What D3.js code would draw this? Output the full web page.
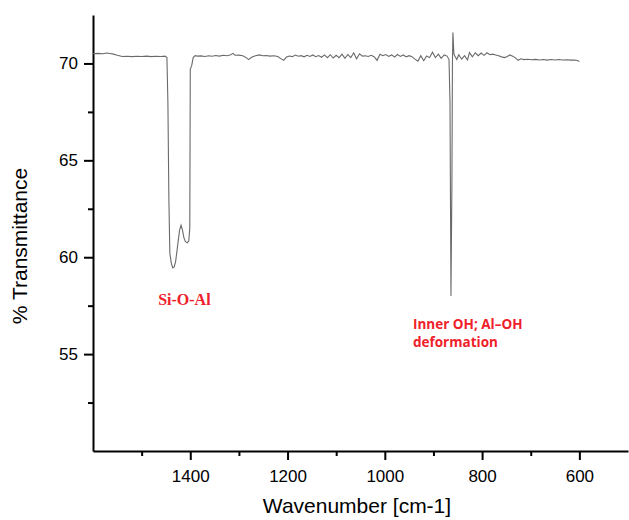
<!DOCTYPE html>
<html>
<head>
<meta charset="utf-8">
<script src="https://cdn.jsdelivr.net/npm/d3@7"></script>
<style>
  body { margin: 0; background: #fff; }
  .axis path, .axis line { stroke: #000; stroke-width: 2; }
  .axis text { font-family: "Liberation Sans", Arial, sans-serif; font-size: 17px; fill: #000; }
</style>
</head>
<body>
<div class="chart"></div>
<script>
// FTIR spectrum, values
var wavenumbers = [
  1600, 1590, 1580, 1572, 1565, 1558, 1550, 1540, 1530, 1520, 1510, 1500, 1490, 1480, 1470, 1460, 1452, 1448,
  1446, 1444, 1442, 1439, 1436, 1433, 1430, 1426, 1422, 1419, 1416, 1413, 1410, 1406, 1403, 1401, 1400, 1397, 1394,
  1390, 1385, 1378, 1370, 1362, 1355, 1348, 1340, 1332, 1325, 1318, 1312, 1308, 1300, 1292, 1285, 1280, 1274, 1266,
  1258, 1250, 1244, 1236, 1228, 1220, 1214, 1208, 1202, 1196, 1190, 1184, 1178, 1172, 1166, 1160, 1154, 1148, 1142,
  1136, 1130, 1124, 1118, 1112, 1106, 1100, 1094, 1088, 1082, 1076, 1070, 1064, 1058, 1052, 1046, 1040, 1034, 1028,
  1022, 1016, 1010, 1004, 998, 992, 986, 980, 974, 968, 962, 956, 950, 944, 938, 932, 926, 920, 914, 908, 902, 896,
  890, 884, 878, 872, 868, 866, 864, 862, 861, 860, 858, 856, 852, 848, 842, 836, 830, 826, 820, 814, 808, 802, 796,
  790, 784, 778, 772, 766, 760, 754, 748, 743, 738, 732, 726, 720, 714, 706, 698, 690, 682, 674, 666, 658, 650, 642,
  634, 626, 618, 610, 604, 600
];
var transmittance = [
  70.50, 70.52, 70.50, 70.54, 70.51, 70.48, 70.42, 70.36, 70.37, 70.35, 70.37, 70.36, 70.38, 70.35, 70.37, 70.36, 70.38, 70.30,
  68.0, 63.0, 60.2, 59.7, 59.45, 59.5, 59.8, 60.6, 61.4, 61.65, 61.4, 61.0, 60.8, 60.75, 60.85, 61.5, 69.7, 69.9, 70.3,
  70.40, 70.38, 70.39, 70.36, 70.40, 70.37, 70.41, 70.38, 70.42, 70.40, 70.44, 70.52, 70.42, 70.43, 70.40, 70.30, 70.20, 70.32, 70.40,
  70.44, 70.40, 70.41, 70.38, 70.40, 70.36, 70.25, 70.16, 70.33, 70.38, 70.35, 70.43, 70.37, 70.40, 70.34, 70.42, 70.36, 70.44, 70.35,
  70.41, 70.32, 70.44, 70.30, 70.45, 70.28, 70.42, 70.30, 70.48, 70.26, 70.46, 70.30, 70.55, 70.24, 70.50, 70.38, 70.40, 70.36, 70.42,
  70.35, 70.16, 70.48, 70.40, 70.46, 70.36, 70.44, 70.33, 70.46, 70.36, 70.44, 70.34, 70.40, 70.35, 70.22, 70.12, 70.40, 70.14, 70.38, 70.30, 70.58, 70.30,
  70.48, 70.26, 70.44, 70.38, 70.20, 68.0, 58.0, 64.0, 70.0, 71.6, 70.5, 70.38, 70.20, 70.45, 70.22, 70.40, 70.18, 70.56, 70.34, 70.55, 70.40, 70.54, 70.42,
  70.55, 70.45, 70.48, 70.44, 70.40, 70.34, 70.30, 70.36, 70.44, 70.38, 70.30, 70.16, 70.24, 70.20, 70.22, 70.19, 70.21, 70.18, 70.20, 70.17, 70.20, 70.18, 70.20,
  70.18, 70.19, 70.17, 70.18, 70.15, 70.10
];

var xMajorTicks = [1400, 1200, 1000, 800, 600];
var xMinorTicks = [1500, 1300, 1100, 900, 700];
var yMajorTicks = [55, 60, 65, 70];
var yMinorTicks = [52.5, 57.5, 62.5, 67.5];

var annotations = [
  { lines: ["Si-O-Al"], x: 1466, y: 57.53, serif: true },
  { lines: ["Inner OH; Al\u2013OH", "deformation"], x: 942, y: 56.29, serif: false }
];

var width = 629, height = 520;
var margin = { top: 15, right: 1, bottom: 69, left: 93 };
var w = width - margin.left - margin.right;
var h = height - margin.top - margin.bottom;

var svg = d3.select(".chart")
  .append("svg")
  .attr("width", width)
  .attr("height", height)
  .append("g")
  .attr("transform", "translate(" + margin.left + "," + margin.top + ")");

var x = d3.scaleLinear().domain([1600, 500]).range([0, w]);
var y = d3.scaleLinear().domain([50, 72.5]).range([h, 0]);

// minor ticks first, then major axes on top
svg.append("g")
  .attr("class", "axis")
  .attr("transform", "translate(0," + h + ")")
  .call(d3.axisBottom(x).tickValues(xMinorTicks).tickSize(5).tickFormat(""))
  .call(g => g.select(".domain").remove());
svg.append("g")
  .attr("class", "axis")
  .call(d3.axisLeft(y).tickValues(yMinorTicks).tickSize(5).tickFormat(""))
  .call(g => g.select(".domain").remove());

svg.append("g")
  .attr("class", "axis")
  .attr("transform", "translate(0," + h + ")")
  .call(d3.axisBottom(x).tickValues(xMajorTicks).tickSize(9).tickSizeOuter(0).tickPadding(10).tickFormat(d3.format("d")));
svg.append("g")
  .attr("class", "axis")
  .call(d3.axisLeft(y).tickValues(yMajorTicks).tickSize(9).tickSizeOuter(0).tickPadding(6).tickFormat(d3.format("d")));

// spectrum
var line = d3.line()
  .x((d, i) => x(wavenumbers[i]))
  .y(d => y(d));

svg.append("path")
  .datum(transmittance)
  .attr("fill", "none")
  .attr("stroke", "#6a6a6a")
  .attr("stroke-width", 1.1)
  .attr("d", line);

// axis titles
svg.append("text")
  .attr("x", 357 - margin.left)
  .attr("y", 513 - margin.top)
  .attr("text-anchor", "middle")
  .style("font-family", "Liberation Sans, Arial, sans-serif")
  .style("font-size", "21px")
  .text("Wavenumber [cm-1]");

svg.append("text")
  .attr("transform", "translate(" + (27 - margin.left) + "," + (246 - margin.top) + ") rotate(-90)")
  .attr("text-anchor", "middle")
  .style("font-family", "Liberation Sans, Arial, sans-serif")
  .style("font-size", "21px")
  .text("% Transmittance");

// annotations
annotations.forEach(a => {
  var t = svg.append("text")
    .attr("x", x(a.x))
    .attr("y", y(a.y))
    .attr("fill", "#f0202a")
    .style("font-weight", "bold")
    .style("font-family", a.serif ? "Liberation Serif, Times New Roman, serif" : "Open Sans, sans-serif")
    .style("font-size", a.serif ? "16px" : "13.5px");
  a.lines.forEach((l, i) => {
    t.append("tspan").attr("x", x(a.x)).attr("dy", i ? "1.33em" : 0).text(l);
  });
});
</script>
</body>
</html>
